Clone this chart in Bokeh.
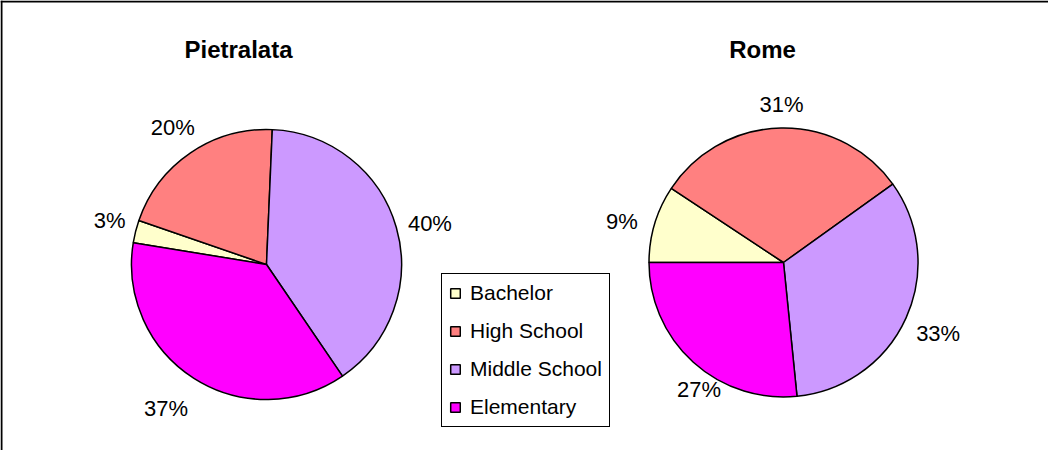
import math
from bokeh.plotting import figure
from bokeh.models import Range1d, Legend, LegendItem
from bokeh.core.properties import value
from bokeh.embed import file_html
from bokeh.resources import INLINE

# ---- data ----
categories = ["Bachelor", "High School", "Middle School", "Elementary"]
pietralata = [2.7, 20.4, 39.8, 37.1]
rome = [9.3, 30.8, 33.3, 26.6]
pie_titles = ["Pietralata", "Rome"]

# ---- style ----
colors = ["#FFFFCC", "#FF8080", "#CC99FF", "#FF00FF"]
FONT = "Liberation Sans"
W, H = 1048, 450

p = figure(width=W, height=H, output_backend="svg", toolbar_location=None,
           x_range=Range1d(0, W), y_range=Range1d(0, H),
           x_axis_location=None, y_axis_location=None, min_border=0)
p.grid.visible = False
p.outline_line_color = None
p.background_fill_color = "white"
p.border_fill_color = "white"

# chart area border (top and left visible)
p.segment(x0=[1, 0], y0=[0, H - 1], x1=[1, W], y1=[H, H - 1],
          line_color="black", line_width=2)

# pie layout: (values, title, cx, cy, radius, first-slice angle clockwise from 12 o'clock,
#              per-label nudges in pixels (dx right, dy down))
pies = [
    (pietralata, pie_titles[0], 266, 186, 135, 279.3,
     [(2, -4), (0, 1), (0, 6), (-11, 4)]),
    (rome, pie_titles[1], 783, 188, 134.5, 270.0,
     [(-5, 6), (1, -2), (0, 1), (28, 3)]),
]

legend_renderers = {}
for vals, title, cx, cy, r, start, nudges in pies:
    cum = start
    lx, ly, ltxt = [], [], []
    for i, v in enumerate(vals):
        c1 = cum
        c2 = cum + v * 3.6
        cum = c2
        a1 = math.radians(90 - c1)
        a2 = math.radians(90 - c2)
        rend = p.wedge(x=cx, y=cy, radius=r, start_angle=a2, end_angle=a1,
                       direction="anticlock", fill_color=colors[i],
                       line_color="black", line_width=1.5)
        if categories[i] not in legend_renderers:
            legend_renderers[categories[i]] = rend
        # label outside the slice
        mid = math.radians(90 - (c1 + c2) / 2)
        txt = f"{round(v)}%"
        tw = (0.556 * (len(txt) - 1) + 0.889) * 22
        th = 20
        d = r + 11 + abs(math.cos(mid)) * tw / 2 + abs(math.sin(mid)) * th / 2
        ndx, ndy = nudges[i]
        lx.append(cx + d * math.cos(mid) + ndx)
        ly.append(cy + d * math.sin(mid) - ndy)
        ltxt.append(txt)
    p.text(x=lx, y=ly, text=ltxt, text_align="center", text_baseline="middle",
           text_font=value(FONT), text_font_size="22px", text_color="black")
    tx = cx - 28 if title == "Pietralata" else cx - 21
    p.text(x=[tx], y=[401], text=[title], text_align="center", text_baseline="middle",
           text_font=value(FONT), text_font_size="24px", text_font_style="bold",
           text_color="black")

legend = Legend(items=[LegendItem(label=c, renderers=[legend_renderers[c]]) for c in categories],
                location=(441, 23))
legend.label_text_font = FONT
legend.label_text_font_size = "21px"
legend.label_text_color = "black"
legend.glyph_width = 12
legend.glyph_height = 12
legend.label_standoff = 9
legend.label_height = 24
legend.padding = 7
legend.spacing = 14
legend.margin = 0
legend.border_line_color = "black"
legend.border_line_alpha = 1.0
legend.border_line_width = 1.5
legend.background_fill_color = "white"
legend.background_fill_alpha = 1.0
p.add_layout(legend)

open("out.html", "w").write(file_html(p, INLINE))
